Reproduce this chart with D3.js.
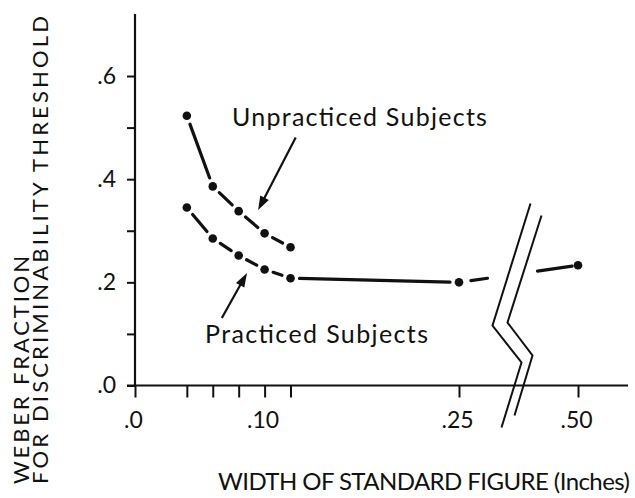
<!DOCTYPE html>
<html><head><meta charset="utf-8">
<script src="https://cdn.jsdelivr.net/npm/d3@7"></script>
<style>
html,body{margin:0;padding:0;background:#fff;}
svg{display:block;}
text{font-family:Lato,"Open Sans",sans-serif;fill:#111;}
</style>
</head><body>
<svg id="chart" width="635" height="498"></svg>
<script>
// ---- data ----
const widths = [0.04, 0.06, 0.08, 0.10, 0.12, 0.25, 0.50];
const unpracticed = [0.523, 0.386, 0.338, 0.295, 0.268];
const practiced = [0.345, 0.285, 0.252, 0.225, 0.208, 0.200, 0.233];
const xTickValues = [0, 0.04, 0.06, 0.08, 0.10, 0.12, 0.25, 0.50];
const xTickLabels = {"0": ".0", "0.1": ".10", "0.25": ".25", "0.5": ".50"};
const yTickValues = [0, 0.1, 0.2, 0.3, 0.4, 0.5, 0.6];
const yTickLabels = {"0": ".0", "0.2": ".2", "0.4": ".4", "0.6": ".6"};
const labels = [
  {text: "Unpracticed Subjects", x: 0.0748, y: 0.504, len: 255},
  {text: "Practiced Subjects", x: 0.054, y: 0.082, len: 223}
];
const arrows = [
  {from: [0.124, 0.481], to: [0.095, 0.340]},
  {from: [0.067, 0.131], to: [0.0864, 0.218]}
];
const xTitle = "WIDTH OF STANDARD FIGURE (Inches)";
const yTitle1 = "WEBER FRACTION";
const yTitle2 = "FOR DISCRIMINABILITY THRESHOLD";

// ---- scales ----
const x = d3.scaleLinear().domain([0, 0.25, 0.50]).range([135, 459, 578]);
const y = d3.scaleLinear().domain([0, 0.6]).range([385.5, 76]);
const svg = d3.select("#chart");
const ink = "#111";
const x0 = x(0), y0 = y(0);

// ---- axes ----
const yAxis = svg.append("g").attr("transform", `translate(${x0},0)`)
  .call(d3.axisLeft(y).tickValues(yTickValues).tickSize(8).tickPadding(11)
    .tickFormat(d => yTickLabels[String(+d.toFixed(2))] || ""));
yAxis.select(".domain").remove();
yAxis.selectAll(".tick line").attr("stroke", ink).attr("stroke-width", 2);
yAxis.selectAll(".tick text").attr("font-size", 23).attr("font-family", "Lato").attr("fill", ink);

const xAxis = svg.append("g").attr("transform", `translate(0,${y0})`)
  .call(d3.axisBottom(x).tickValues(xTickValues).tickSize(12)
    .tickFormat(d => xTickLabels[String(+d.toFixed(2))] || ""));
xAxis.select(".domain").remove();
xAxis.selectAll(".tick line").attr("stroke", ink).attr("stroke-width", 2);
xAxis.selectAll(".tick text").attr("font-size", 23).attr("font-family", "Lato")
  .attr("fill", ink).attr("y", 42.5).attr("dy", 0).attr("dx", -2);

svg.append("line").attr("x1", x0).attr("x2", x0).attr("y1", y0).attr("y2", y(0.72))
  .attr("stroke", ink).attr("stroke-width", 2.2);
svg.append("line").attr("x1", x0 - 8).attr("x2", 628).attr("y1", y0).attr("y2", y0)
  .attr("stroke", ink).attr("stroke-width", 2.2);

// ---- axis break ----
const bx = (x(0.25) + x(0.50)) / 2;
const brk1 = [[12,-182],[-26,-60],[3,-23],[-17,42]];
const brk2 = [[23,-170],[-11,-63],[14,-30],[-4,30]];
const bl = d3.line().x(d => bx + d[0]).y(d => y0 + d[1]);
[brk1, brk2].forEach(b => svg.append("path").attr("d", bl(b)).attr("fill", "none")
  .attr("stroke", ink).attr("stroke-width", 2).attr("stroke-linejoin", "miter"));

// ---- series ----
function drawSeries(xs, ys) {
  const pts = ys.map((v, i) => [x(xs[i]), y(v)]);
  const g = 9;
  for (let i = 0; i < pts.length - 1; i++) {
    const [ax, ay] = pts[i], [bx2, by] = pts[i + 1];
    const dx = bx2 - ax, dy = by - ay, L = Math.hypot(dx, dy);
    const ux = dx / L, uy = dy / L;
    const pieces = [];
    if (ax < bx && bx2 > bx) {
      const t1 = (bx - 31 - ax) / dx, t2 = (bx + 19 - ax) / dx;
      pieces.push([12, t1 * L], [t2 * L, L - 6]);
    } else {
      pieces.push([g, L - g]);
    }
    pieces.forEach(([s, e]) => svg.append("line")
      .attr("x1", ax + ux * s).attr("y1", ay + uy * s)
      .attr("x2", ax + ux * e).attr("y2", ay + uy * e)
      .attr("stroke", ink).attr("stroke-width", 3.2).attr("stroke-linecap", "round"));
  }
  svg.append("g").selectAll("circle").data(pts).join("circle")
    .attr("cx", d => d[0]).attr("cy", d => d[1]).attr("r", 4.3).attr("fill", ink);
}
drawSeries(widths, unpracticed);
drawSeries(widths, practiced);

// ---- annotations ----
labels.forEach(l => svg.append("text").attr("x", x(l.x)).attr("y", y(l.y))
  .attr("font-size", 25).attr("textLength", l.len).attr("lengthAdjust", "spacing").text(l.text));

arrows.forEach(a => {
  const tx = x(a.to[0]), ty = y(a.to[1]), fx = x(a.from[0]), fy = y(a.from[1]);
  const dx = tx - fx, dy = ty - fy, L = Math.hypot(dx, dy);
  const ux = dx / L, uy = dy / L, hl = 14, hw = 4.8;
  const bxh = tx - ux * hl, byh = ty - uy * hl;
  svg.append("line").attr("x1", fx).attr("y1", fy).attr("x2", bxh + ux * 2).attr("y2", byh + uy * 2)
    .attr("stroke", ink).attr("stroke-width", 2.2);
  svg.append("path").attr("d", `M${tx},${ty}L${bxh - uy * hw},${byh + ux * hw}L${bxh + uy * hw},${byh - ux * hw}Z`)
    .attr("fill", ink);
});

// ---- titles ----
svg.append("text").attr("x", 218).attr("y", 490).attr("font-size", 24)
  .attr("textLength", 412).attr("lengthAdjust", "spacing").text(xTitle);
svg.append("text").attr("transform", "translate(29,484) rotate(-90)").attr("font-size", 22)
  .attr("textLength", 228).attr("lengthAdjust", "spacing").text(yTitle1);
svg.append("text").attr("transform", "translate(48,484) rotate(-90)").attr("font-size", 22)
  .attr("textLength", 468).attr("lengthAdjust", "spacing").text(yTitle2);
</script>
</body></html>
